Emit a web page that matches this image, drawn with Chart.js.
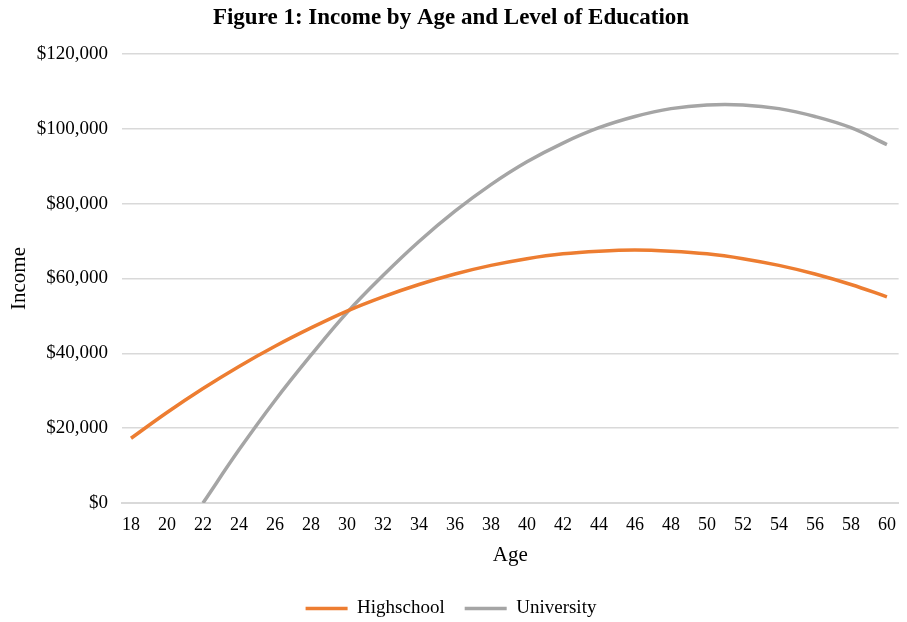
<!DOCTYPE html>
<html>
<head>
<meta charset="utf-8">
<script src="https://cdn.jsdelivr.net/npm/chart.js@4"></script>
<style>
  body { margin: 0; background: #fff; }
  #caixa { width: 907px; height: 622px; }
</style>
</head>
<body>
<div id="caixa"><canvas id="telaGrafico"></canvas></div>
<script>
// idades (eixo x)
const idades = [18, 20, 22, 24, 26, 28, 30, 32, 34, 36, 38, 40, 42, 44, 46, 48, 50, 52, 54, 56, 58, 60];

// renda estimada por idade
const rendaHighschool = [17300, 24200, 30600, 36500, 41900, 46800, 51300, 55100, 58400, 61200, 63500,
    65300, 66600, 67300, 67600, 67300, 66600, 65300, 63500, 61200, 58400, 55100];
const rendaUniversity = [null, null, 0, 14200, 27400, 39500, 50900, 60800, 69900, 78000, 85100,
    91200, 96200, 100300, 103300, 105400, 106400, 106400, 105400, 103300, 100300, 95800];

const ticksY = [0, 20000, 40000, 60000, 80000, 100000, 120000];

const fonte = 'Liberation Serif';

function pares(valores) {
    let lista = [];
    for (let i = 0; i < idades.length; i++) {
        lista.push({ x: idades[i], y: valores[i] });
    }
    return lista;
}

let dados = {
    datasets: [{
        label: 'Highschool',
        data: pares(rendaHighschool),
        borderColor: '#ED7D31',
        backgroundColor: '#ED7D31',
        borderWidth: 3.5,
        pointRadius: 0,
        tension: 0.4
    }, {
        label: 'University',
        data: pares(rendaUniversity),
        borderColor: '#A5A5A5',
        backgroundColor: '#A5A5A5',
        borderWidth: 3.5,
        pointRadius: 0,
        tension: 0.4
    }]
};

const config = {
    type: 'line',
    data: dados,
    options: {
        responsive: true,
        maintainAspectRatio: false,
        animation: false,
        layout: { padding: { left: 0, right: 5, top: 4, bottom: -6 } },
        plugins: {
            title: {
                display: true,
                text: 'Figure 1: Income by Age and Level of Education',
                color: '#000',
                font: { family: fonte, size: 23, weight: 'bold' },
                padding: { top: 0, bottom: 22.4 }
            },
            legend: {
                position: 'bottom',
                labels: {
                    usePointStyle: true,
                    pointStyle: 'line',
                    pointStyleWidth: 42,
                    color: '#000',
                    font: { family: fonte, size: 19 },
                    padding: 20
                }
            },
            tooltip: { enabled: false }
        },
        scales: {
            x: {
                type: 'linear',
                min: 17.5,
                max: 60.65,
                afterBuildTicks: function (eixo) {
                    eixo.ticks = idades.map(function (v) { return { value: v }; });
                },
                afterFit: function (eixo) {
                    eixo.height = eixo.height - 10;
                },
                ticks: {
                    color: '#000',
                    font: { family: fonte, size: 18 },
                    padding: 11,
                    maxRotation: 0,
                    autoSkip: false
                },
                grid: { display: false, drawTicks: false },
                border: { color: '#D9D9D9', width: 2 },
                title: {
                    display: true,
                    text: 'Age',
                    color: '#000',
                    font: { family: fonte, size: 21 },
                    padding: { top: 5.8, bottom: 11.4 }
                }
            },
            y: {
                min: 0,
                max: 120000,
                afterBuildTicks: function (eixo) {
                    eixo.ticks = ticksY.map(function (v) { return { value: v }; });
                },
                afterFit: function (eixo) {
                    eixo.width = 122;
                },
                ticks: {
                    color: '#000',
                    font: { family: fonte, size: 19 },
                    padding: 14,
                    callback: function (v) { return '$' + v.toLocaleString('en-US'); }
                },
                grid: { color: '#D9D9D9', lineWidth: 1.5, drawTicks: false },
                border: { display: false },
                title: {
                    display: true,
                    text: 'Income',
                    color: '#000',
                    font: { family: fonte, size: 21 },
                    padding: { top: 7, bottom: 6 }
                }
            }
        }
    }
};

let myChart = new Chart(document.getElementById('telaGrafico'), config);
</script>
</body>
</html>
